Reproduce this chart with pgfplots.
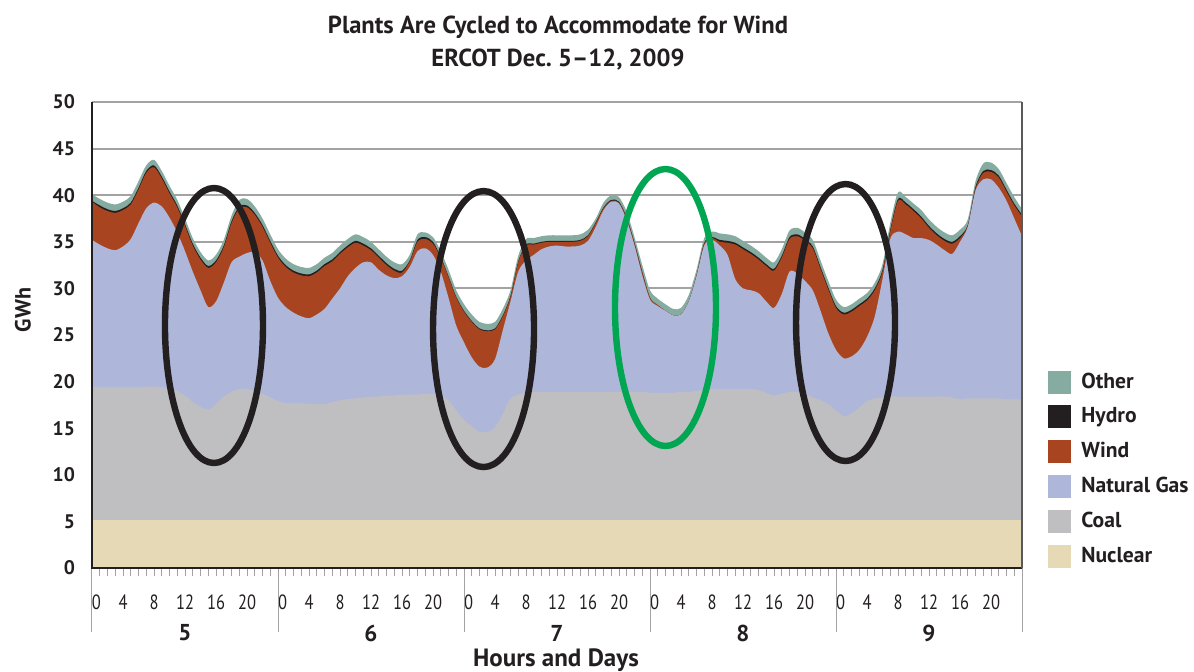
\documentclass[border=0pt]{standalone}
\usepackage{fontspec}
\setmainfont{PT Sans}
\newfontfamily\condensed[FakeStretch=0.8]{PT Sans}
\usepackage{pgfplots}
\pgfplotsset{compat=1.18}
\usepackage{pgfplotstable}

\definecolor{cOther}{HTML}{86ABA0}
\definecolor{cHydro}{HTML}{231F20}
\definecolor{cWind}{HTML}{A84520}
\definecolor{cGas}{HTML}{AEB7D9}
\definecolor{cCoal}{HTML}{BFBFC1}
\definecolor{cNuc}{HTML}{E6D9B5}
\definecolor{cGrid}{HTML}{A3A3A3}
\definecolor{cGreen}{HTML}{00A651}
\definecolor{cAxis}{HTML}{231F20}

% cumulative tops: C=coal, G=natural gas, W=wind, H=hydro, O=other
\pgfplotstableread{
h C G W H O
0 19.4 35.2 39.3 39.4 40.1
1 19.4 34.7 38.7 38.9 39.6
2 19.4 34.3 38.3 38.5 39.2
3 19.4 34.1 38.1 38.3 39.0
4 19.4 34.5 38.4 38.6 39.3
5 19.4 35.3 39.0 39.2 39.9
6 19.4 37.0 40.6 40.8 41.5
7 19.45 38.6 42.4 42.6 43.2
8 19.45 39.2 43.0 43.2 43.8
9 19.4 38.8 41.8 42.0 42.6
10 19.3 37.6 40.2 40.4 41.0
11 19.0 36.0 38.7 38.9 39.5
12 18.5 34.0 36.7 36.9 37.5
13 17.8 31.8 34.6 34.8 35.4
14 17.3 29.8 33.1 33.3 33.9
15 17.0 28.0 32.2 32.4 33.0
16 17.6 28.6 32.8 33.0 33.6
17 18.4 30.6 34.4 34.6 35.2
18 18.9 32.8 37.0 37.2 37.8
19 19.2 33.4 38.6 38.8 39.5
20 19.2 33.8 38.7 38.9 39.6
21 19.0 33.9 37.9 38.1 38.8
22 18.7 33.0 36.6 36.8 37.5
23 18.3 30.8 34.9 35.1 35.8
24 17.9 29.0 33.3 33.5 34.2
25 17.7 28.0 32.3 32.5 33.2
26 17.7 27.4 31.7 31.9 32.6
27 17.7 27.0 31.4 31.6 32.3
28 17.6 26.8 31.3 31.5 32.2
29 17.6 27.2 31.7 31.9 32.6
30 17.6 27.8 32.4 32.6 33.3
31 17.8 28.9 32.9 33.1 33.8
32 18.0 30.0 33.7 33.9 34.6
33 18.1 31.3 34.4 34.6 35.3
34 18.2 32.2 34.9 35.1 35.8
35 18.3 32.8 34.6 34.8 35.5
36 18.4 32.8 34.1 34.3 35.0
37 18.4 32.0 33.3 33.5 34.2
38 18.5 31.4 32.5 32.7 33.4
39 18.5 31.1 31.9 32.1 32.8
40 18.6 31.3 31.7 31.9 32.6
41 18.6 32.3 32.9 33.0 33.6
42 18.6 34.0 35.0 35.2 35.8
43 18.7 34.3 35.3 35.5 36.0
44 18.7 33.6 34.8 35.0 35.5
45 18.5 31.8 33.3 33.4 34.0
46 18.0 29.0 31.2 31.3 32.0
47 16.9 26.0 29.0 29.1 29.8
48 15.9 24.2 27.5 27.6 28.3
49 15.2 22.6 26.4 26.5 27.2
50 14.6 21.6 25.6 25.7 26.4
51 14.6 21.5 25.4 25.5 26.2
52 15.1 22.4 25.6 25.7 26.4
53 16.5 25.5 27.0 27.1 27.8
54 18.2 28.6 29.1 29.2 29.8
55 18.6 31.8 32.8 32.9 33.5
56 18.8 33.0 34.6 34.7 35.3
57 18.9 33.6 34.7 34.8 35.4
58 18.9 34.2 34.9 35.0 35.6
59 18.9 34.5 35.0 35.1 35.7
60 18.9 34.6 35.0 35.1 35.7
61 18.9 34.5 35.0 35.1 35.7
62 18.9 34.5 35.0 35.1 35.7
63 18.9 34.6 35.1 35.2 35.8
64 18.9 35.1 35.6 35.7 36.3
65 18.9 36.6 37.0 37.1 37.5
66 18.9 38.4 38.6 38.7 39.2
67 18.9 39.3 39.4 39.5 40.0
68 18.9 39.1 39.2 39.3 39.8
69 18.9 37.3 37.5 37.6 38.2
70 18.9 34.6 34.8 34.9 35.5
71 18.9 31.4 31.7 31.8 32.5
72 18.8 28.8 29.0 29.0 29.8
73 18.8 28.1 28.2 28.2 28.9
74 18.8 27.6 27.6 27.6 28.3
75 18.8 27.1 27.1 27.1 27.8
76 18.9 27.2 27.2 27.2 27.9
77 18.9 28.6 28.6 28.6 29.3
78 19.0 31.3 31.4 31.4 32.0
79 19.1 34.6 34.8 34.9 35.4
80 19.2 35.2 35.4 35.5 36.1
81 19.2 34.6 35.0 35.2 35.9
82 19.2 33.6 34.9 35.1 35.8
83 19.2 31.0 34.7 34.9 35.6
84 19.2 30.0 34.2 34.4 35.1
85 19.2 29.8 33.7 33.9 34.6
86 19.1 29.5 33.1 33.3 34.0
87 18.8 28.6 32.4 32.6 33.3
88 18.5 27.9 31.9 32.1 32.8
89 18.7 29.4 33.3 33.5 34.2
90 18.9 31.8 35.3 35.5 36.2
91 18.9 31.6 35.6 35.8 36.5
92 18.7 30.8 35.1 35.3 36.0
93 18.3 29.8 34.3 34.5 35.2
94 18.0 27.6 32.1 32.3 33.0
95 17.6 25.2 29.9 30.1 30.8
96 16.9 23.4 27.9 28.1 28.8
97 16.3 22.5 27.2 27.4 28.0
98 16.6 22.7 27.5 27.7 28.3
99 17.2 23.4 28.1 28.3 28.9
100 17.9 24.8 28.7 28.9 29.5
101 18.2 27.0 29.8 30.0 30.6
102 18.3 31.0 31.8 32.0 32.6
103 18.4 35.3 36.1 36.3 37.0
104 18.4 36.1 39.4 39.6 40.3
105 18.4 35.8 39.0 39.2 39.8
106 18.4 35.4 38.3 38.5 39.1
107 18.4 35.4 37.5 37.7 38.4
108 18.4 35.2 36.5 36.7 37.4
109 18.4 34.7 35.7 35.9 36.6
110 18.4 34.1 35.1 35.3 36.0
111 18.3 33.7 34.8 35.0 35.7
112 18.1 35.0 35.4 35.6 36.3
113 18.2 36.6 36.7 36.8 37.4
114 18.2 40.5 40.7 40.9 41.5
115 18.2 41.7 42.4 42.6 43.4
116 18.2 41.7 42.5 42.7 43.5
117 18.2 40.8 41.9 42.1 42.8
118 18.1 39.4 40.4 40.6 41.3
119 18.1 37.5 38.9 39.1 39.8
120 18.1 35.6 37.7 37.9 38.5
}\gen

\begin{document}
\begin{tikzpicture}
\useasboundingbox (-46pt,-51.5pt) rectangle (551pt,284pt);
\begin{axis}[
  at={(0,0)}, anchor=south west,
  scale only axis, width=465pt, height=233pt,
  xmin=0, xmax=120, ymin=0, ymax=50,
  clip=false,
  axis line style={draw=none},
  ytick={0,5,...,50},
  yticklabels={0,5,10,15,20,25,30,35,40,45,50},
  ymajorgrids, grid style={cGrid, line width=1pt},
  ytick style={draw=none},
  yticklabel style={font=\fontsize{9.8}{11}\selectfont\bfseries, text=cAxis, anchor=east, xshift=-1pt},
  xtick={0,4,...,116},
  xticklabels={\makebox[0pt][l]{0},4,8,12,16,20,\makebox[0pt][l]{0},4,8,12,16,20,\makebox[0pt][l]{0},4,8,12,16,20,\makebox[0pt][l]{0},4,8,12,16,20,\makebox[0pt][l]{0},4,8,12,16,20},
  xticklabel style={font=\condensed\fontsize{10.3}{11}\selectfont, text=cAxis, yshift=-6pt},
  minor xtick={0,1,...,120},
  xtick pos=left,
  tick align=outside,
  major tick length=4pt, minor tick length=4pt,
  xtick style={cGrid, line width=0.5pt},
  minor x tick style={cGrid, line width=0.5pt},
  extra x ticks={0,24,48,72,96,120},
  extra x tick labels={},
  extra x tick style={major tick length=32pt, tick style={cGrid, line width=1pt}},
  legend style={at={(1,0)}, xshift=13pt, anchor=south west, draw=none, fill=none,
    inner sep=0pt, row sep=5.9pt, font=\fontsize{10.8}{12}\selectfont\bfseries,
    text=cAxis, nodes={inner sep=0pt},
    /tikz/every odd column/.append style={column sep=5pt}},
  legend cell align=left,
  legend image code/.code={\fill[#1] (0pt,-5.75pt) rectangle (11.5pt,5.75pt);},
]
\addplot[draw=none, fill=cOther, smooth] table[x=h, y=O]{\gen} \closedcycle;
\addlegendentry{Other}
\addplot[draw=none, fill=cHydro, smooth] table[x=h, y=H]{\gen} \closedcycle;
\addlegendentry{Hydro}
\addplot[draw=none, fill=cWind, smooth] table[x=h, y=W]{\gen} \closedcycle;
\addlegendentry{Wind}
\addplot[draw=none, fill=cGas, smooth] table[x=h, y=G]{\gen} \closedcycle;
\addlegendentry{Natural Gas}
\addplot[draw=none, fill=cCoal, smooth] table[x=h, y=C]{\gen} \closedcycle;
\addlegendentry{Coal}
\addplot[draw=none, fill=cNuc] coordinates {(0,5.1) (120,5.1)} \closedcycle;
\addlegendentry{Nuclear}

\draw[cAxis, line width=1pt] (rel axis cs:0,1) -- (rel axis cs:0,0) -- (rel axis cs:1,0);
\draw[black!65, line width=1pt] (rel axis cs:1,0) -- (rel axis cs:1,1);

\draw[cHydro, line width=3.2pt] (axis cs:15.74,26.02) ellipse [x radius=24.5pt, y radius=68.75pt];
\draw[cHydro, line width=3.2pt] (axis cs:50.52,25.64) ellipse [x radius=25.25pt, y radius=69pt];
\draw[cGreen, line width=3.2pt] (axis cs:74.0,27.95) ellipse [x radius=25.25pt, y radius=69.25pt];
\draw[cHydro, line width=3.2pt] (axis cs:97.23,26.34) ellipse [x radius=24.75pt, y radius=69.25pt];

\node[font=\fontsize{11.5}{12}\selectfont\bfseries, text=cAxis] at (axis cs:12,0) [yshift=-32.5pt] {5};
\node[font=\fontsize{11.5}{12}\selectfont\bfseries, text=cAxis] at (axis cs:36,0) [yshift=-32.5pt] {6};
\node[font=\fontsize{11.5}{12}\selectfont\bfseries, text=cAxis] at (axis cs:60,0) [yshift=-32.5pt] {7};
\node[font=\fontsize{11.5}{12}\selectfont\bfseries, text=cAxis] at (axis cs:84,0) [yshift=-32.5pt] {8};
\node[font=\fontsize{11.5}{12}\selectfont\bfseries, text=cAxis] at (axis cs:108,0) [yshift=-32.5pt] {9};
\end{axis}
\node[font=\fontsize{12.3}{13}\selectfont\bfseries, text=cAxis] at (233pt,270.5pt) {Plants Are Cycled to Accommodate for Wind};
\node[font=\fontsize{12.3}{13}\selectfont\bfseries, text=cAxis] at (233pt,254pt) {ERCOT Dec.~5–12, 2009};
\node[font=\fontsize{11}{12}\selectfont\bfseries, text=cAxis, rotate=90] at (-34.5pt,129pt) {GWh};
\node[font=\fontsize{12.5}{13}\selectfont\bfseries, text=cAxis] at (232pt,-46pt) {Hours and Days};
\end{tikzpicture}
\end{document}
